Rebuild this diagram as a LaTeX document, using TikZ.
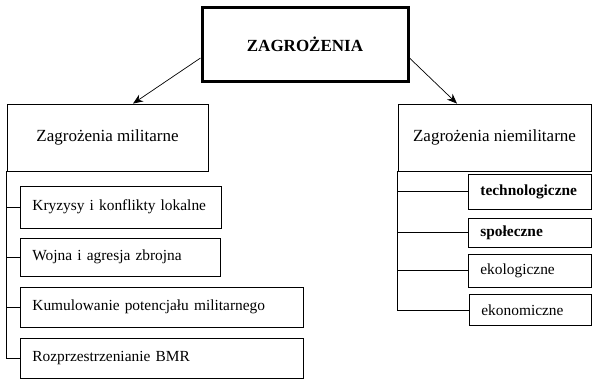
\documentclass[tikz,border=0pt]{standalone}
\usepackage{fontspec}
\setmainfont{Liberation Serif}
\usetikzlibrary{arrows.meta}

\begin{document}
\begin{tikzpicture}[x=1pt, y=-1pt,
    every node/.style={font=\fontsize{17}{20}\selectfont},
    main/.style={rectangle, draw, line width=3pt, minimum width=206pt, minimum height=74pt, inner sep=0pt, font=\fontsize{17}{20}\selectfont\bfseries},
    group/.style={rectangle, draw, line width=0.8pt, minimum height=67pt, inner sep=0pt},
    item/.style={rectangle, draw, line width=0.8pt, anchor=west, align=left, inner xsep=12pt, inner ysep=0pt, font=\fontsize{15.4}{18}\selectfont},
    itembf/.style={item, font=\fontsize{15.4}{18}\selectfont\bfseries},
    arrow/.style={-{Stealth[length=10pt,width=8pt]}, line width=0.7pt},
    tie/.style={line width=0.8pt}]
    \useasboundingbox (0,0) rectangle (592,381);

    \node[main] (Z) at (305,44) {ZAGROŻENIA};
    \node[group, minimum width=201pt] (mil) at (107.5,137.5) {Zagrożenia militarne};
    \node[group, minimum width=193pt] (niemil) at (494.5,137.5) {Zagrożenia niemilitarne};

    % militarne
    \node[item, text width=177pt, minimum height=42pt] (krz) at (20,207) {Kryzysy i konflikty lokalne};
    \node[item, text width=176pt, minimum height=38pt] (woj) at (20,257) {Wojna i agresja zbrojna};
    \node[item, text width=259pt, minimum height=40pt] (kum) at (20,307) {Kumulowanie potencjału militarnego};
    \node[item, text width=259pt, minimum height=40pt] (bmr) at (20,358) {Rozprzestrzenianie BMR};

    % niemilitarne
    \node[itembf, text width=99pt, minimum height=35pt] (tech) at (468,191.5) {technologiczne};
    \node[itembf, text width=99pt, minimum height=29pt] (spol) at (468,232.5) {społeczne};
    \node[item, text width=99pt, minimum height=33pt] (ekol) at (468,270.5) {ekologiczne};
    \node[item, text width=98pt, minimum height=31pt] (ekon) at (469,310) {ekonomiczne};

    \draw[arrow] ([yshift=-14pt]Z.west) -- ([xshift=25.5pt]mil.north);
    \draw[arrow] ([yshift=-14pt]Z.east) -- ([xshift=-37.5pt]niemil.north);

    \foreach \n in {krz,woj,kum,bmr}
        \draw[tie] (mil.south west) |- (\n.west);
    \foreach \n in {tech,spol,ekol,ekon}
        \draw[tie] (niemil.south west) |- (\n.west);
\end{tikzpicture}
\end{document}
